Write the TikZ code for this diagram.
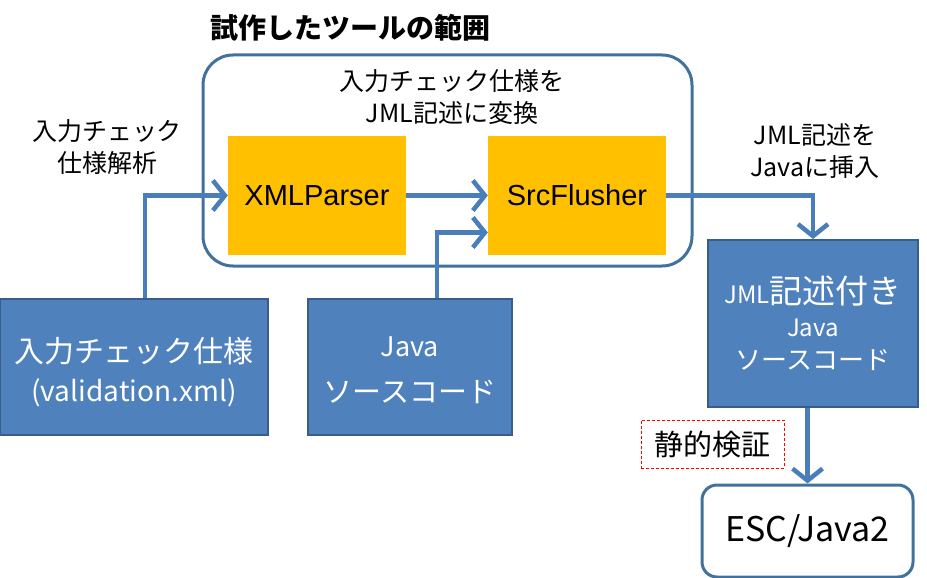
\documentclass[tikz,border=0pt]{standalone}
\usepackage{fontspec}
\newfontfamily\jp{Noto Sans CJK JP}
\newfontfamily\ar{Liberation Sans}
\usetikzlibrary{arrows.meta}
\definecolor{bfill}{HTML}{4F81BD}
\definecolor{bline}{HTML}{385D8A}
\definecolor{oline}{HTML}{41719C}
\definecolor{orng}{HTML}{FFC000}
\definecolor{arrc}{HTML}{4A7EBB}
\tikzset{
  fs/.style={font={\jp\fontsize{#1}{\dimexpr #1pt*5/4\relax}\selectfont}},
  bluebox/.style={draw=bline,line width=2pt,fill=bfill,text=white,inner sep=0pt,align=center},
  orgbox/.style={fill=orng,inner sep=0pt,font={\ar\fontsize{29}{32}\selectfont}},
  roundbox/.style={draw=oline,line width=3pt,rounded corners=#1,inner sep=0pt},
  arr/.style={draw=arrc,line width=4.5pt,-{Straight Barb[length=12pt,width=30pt,line width=4.5pt]}},
  lbl/.style={align=center,inner sep=0pt},
}
\begin{document}
\begin{tikzpicture}[x=1pt,y=-1pt]
\useasboundingbox (0,0) rectangle (927,578);
% outer scope box
\node[roundbox=30pt,minimum width=489pt,minimum height=211pt] (scope) at (447.5,160.5) {};
\node[lbl,font={\jp\bfseries\fontsize{28}{32}\selectfont}] (title) at (350,28) {試作したツールの範囲};
\node[lbl,fs=25] (conv) at (452,97) {入力チェック仕様を\\[1pt]JML記述に変換};
% orange boxes
\node[orgbox,minimum width=178pt,minimum height=119pt] (xml) at (317,195.5) {XMLParser};
\node[orgbox,minimum width=178pt,minimum height=119pt] (src) at (577,195.5) {SrcFlusher};
% blue boxes
\node[bluebox,minimum width=268pt,minimum height=136pt,fs=30] (spec) at (134,367) {};
\node[text=white,fs=30,lbl] (spectxt) at ([yshift=-5pt]spec.center) {入力チェック仕様\\[2pt]{\fontsize{28}{32}\selectfont(validation.xml)}};
\node[bluebox,minimum width=204pt,minimum height=136pt,fs=29] (java) at (410,367) {};
\node[text=white,fs=29,lbl] (javatxt) at ([yshift=-3pt]java.center) {{\fontsize{27}{30}\selectfont Java}\\[10pt]ソースコード};
\node[bluebox,minimum width=210pt,minimum height=167pt,fs=26] (jml) at (813,323.5) {{\fontsize{24}{28}\selectfont JML}{\fontsize{33}{36}\selectfont 記述付き}\\[0pt]{\fontsize{24}{28}\selectfont Java}\\[1pt]ソースコード};
\node[roundbox=15pt,minimum width=211pt,minimum height=92pt,fs=34] (esc) at (807.5,531) {ESC/Java2};
% labels
\node[lbl,fs=25] (lab1) at (107,147) {入力チェック\\仕様解析};
\node[lbl,fs=25] (lab2) at (815,151) {JML記述を\\Javaに挿入};
\node[draw=red,dashed,line width=0.8pt,dash pattern=on 3pt off 2pt,minimum width=143pt,minimum height=48pt,inner sep=0pt,fs=29] (check) at (712.5,444) {静的検証};
% arrows
\draw[arr] (spec.north) ++(11,0) |- (xml.west);
\draw[arr] (xml.east) -- (src.west);
\draw[arr] (java.north) ++(27,0) |- ([yshift=-37pt]src.west);
\draw[arr] (src.east) -| (jml.north);
\draw[arr] (jml.south -| esc.north) -- (esc.north);
\end{tikzpicture}
\end{document}
